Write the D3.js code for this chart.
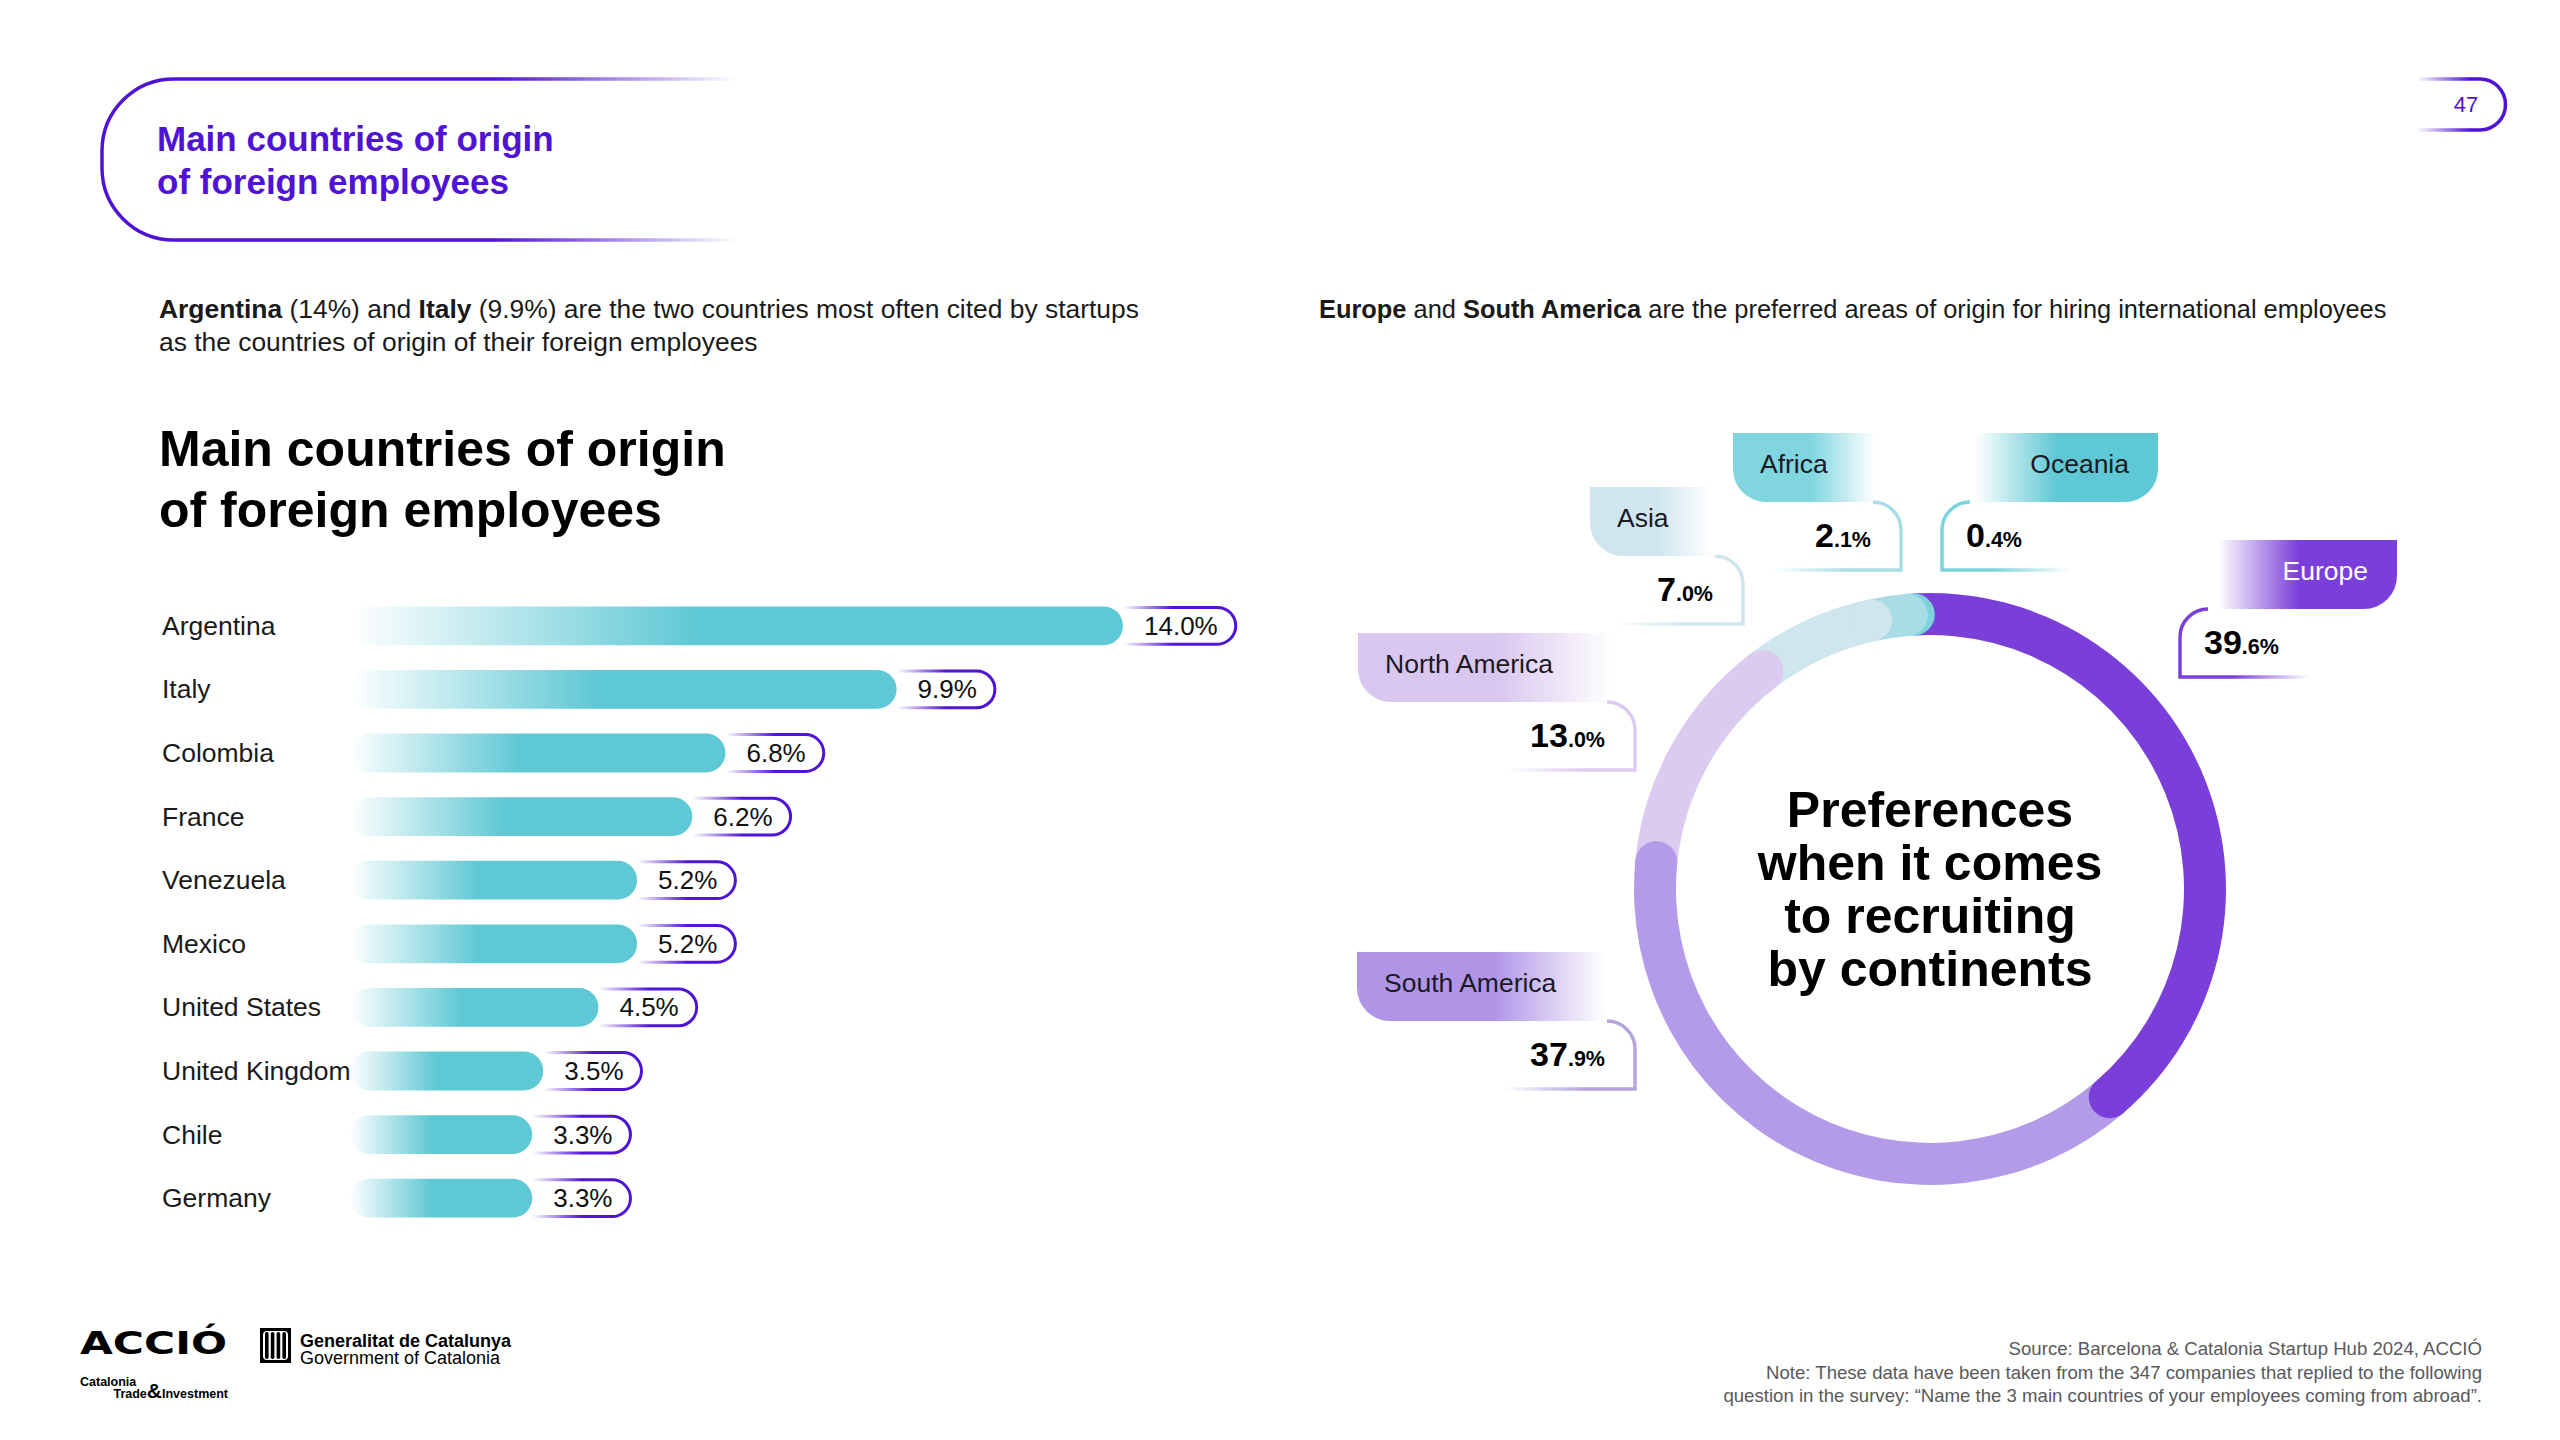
<!DOCTYPE html>
<html>
<head>
<meta charset="utf-8">
<script src="https://cdn.jsdelivr.net/npm/d3@7"></script>
<style>
  html, body { margin: 0; padding: 0; background: #fff; }
  svg { display: block; font-family: 'Liberation Sans', Arial, Helvetica, sans-serif; }
</style>
</head>
<body>
<div id="chart"></div>
<script>
const countries = ['Argentina', 'Italy', 'Colombia', 'France', 'Venezuela', 'Mexico', 'United States', 'United Kingdom', 'Chile', 'Germany'];
const countryShares = [14.0, 9.9, 6.8, 6.2, 5.2, 5.2, 4.5, 3.5, 3.3, 3.3];

const continents = ['Europe', 'South America', 'North America', 'Asia', 'Africa', 'Oceania'];
const continentShares = [39.6, 37.9, 13.0, 7.0, 2.1, 0.4];

const ringColours = ['#7b3fd9', '#b49be9', '#dccbf1', '#cfe6ee', '#a8dde6', '#7dd3dd'];
const tagColours = ['#7b3fd9', '#b095e7', '#d9c7ef', '#cfe6ee', '#80d5df', '#5ec8d4'];
const boxColours = ['#7b3fd9', '#b6a5dc', '#dccbf1', '#cfe6ee', '#a8dde6', '#7dd3dd'];

// where each continent tag sits around the ring
const tagLayout = [
  { side: 'right', x0: 2218, x1: 2397, y: 540, box: 2180 },
  { side: 'left', x0: 1357, x1: 1605, y: 952, box: 1635 },
  { side: 'left', x0: 1358, x1: 1612, y: 633, box: 1635 },
  { side: 'left', x0: 1590, x1: 1712, y: 487, box: 1743 },
  { side: 'left', x0: 1733, x1: 1875, y: 433, box: 1901 },
  { side: 'right', x0: 1975, x1: 2158, y: 433, box: 1942 }
];

const purple = '#4f13d6';
const teal = '#5ec8d4';
const fmt = d3.format('.1f');

const width = 2560;
const height = 1440;

const svg = d3.select('#chart')
  .append('svg')
  .attr('width', width)
  .attr('height', height);

const defs = svg.append('defs');

const addGradient = (id, x1, x2, colour, stops) => {
  const g = defs.append('linearGradient')
    .attr('id', id)
    .attr('gradientUnits', 'userSpaceOnUse')
    .attr('x1', x1).attr('x2', x2)
    .attr('y1', 0).attr('y2', 0);
  stops.forEach(([o, a]) => {
    g.append('stop').attr('offset', o).attr('stop-color', colour).attr('stop-opacity', a);
  });
  return `url(#${id})`;
};

// ---- header box ----
svg.append('path')
  .attr('d', 'M737,79 H174 A72,72 0 0 0 102,151 V168 A72,72 0 0 0 174,240 H737')
  .attr('fill', 'none')
  .attr('stroke', addGradient('headGrad', 102, 737, purple, [[0, 1], [0.62, 1], [1, 0]]))
  .attr('stroke-width', 3.5);

svg.append('text')
  .attr('x', 157).attr('y', 151)
  .attr('font-size', 35).attr('font-weight', 'bold').attr('fill', purple)
  .text('Main countries of origin');
svg.append('text')
  .attr('x', 157).attr('y', 194)
  .attr('font-size', 35).attr('font-weight', 'bold').attr('fill', purple)
  .text('of foreign employees');

// page number
svg.append('path')
  .attr('d', 'M2417,79 H2480 A25.5,25.5 0 0 1 2480,130 H2417')
  .attr('fill', 'none')
  .attr('stroke', addGradient('pageGrad', 2417, 2470, purple, [[0, 0], [1, 1]]))
  .attr('stroke-width', 3.5);
svg.append('text')
  .attr('x', 2466).attr('y', 112)
  .attr('text-anchor', 'middle')
  .attr('font-size', 22).attr('fill', purple)
  .text('47');

// ---- subtitles ----
const sub = svg.append('text')
  .attr('x', 159).attr('y', 318)
  .attr('font-size', 26.4).attr('fill', '#1a1a1a');
sub.append('tspan').attr('font-weight', 'bold').text('Argentina');
sub.append('tspan').text(' (14%) and ');
sub.append('tspan').attr('font-weight', 'bold').text('Italy');
sub.append('tspan').text(' (9.9%) are the two countries most often cited by startups');
svg.append('text')
  .attr('x', 159).attr('y', 351)
  .attr('font-size', 26.4).attr('fill', '#1a1a1a')
  .text('as the countries of origin of their foreign employees');

const sub2 = svg.append('text')
  .attr('x', 1319).attr('y', 318)
  .attr('font-size', 25.4).attr('fill', '#1a1a1a');
sub2.append('tspan').attr('font-weight', 'bold').text('Europe');
sub2.append('tspan').text(' and ');
sub2.append('tspan').attr('font-weight', 'bold').text('South America');
sub2.append('tspan').text(' are the preferred areas of origin for hiring international employees');

svg.append('text')
  .attr('x', 159).attr('y', 466)
  .attr('font-size', 50).attr('font-weight', 'bold').attr('fill', '#000')
  .text('Main countries of origin');
svg.append('text')
  .attr('x', 159).attr('y', 527)
  .attr('font-size', 50).attr('font-weight', 'bold').attr('fill', '#000')
  .text('of foreign employees');

// ---- bar chart ----
const x = d3.scaleLinear().domain([0, 14]).range([350, 1123]);
const y = d3.scaleBand().domain(countries).range([594, 1230]).paddingInner(0.39).paddingOuter(0.195);

defs.append('linearGradient')
  .attr('id', 'barGrad')
  .attr('x1', 0).attr('x2', 1).attr('y1', 0).attr('y2', 0)
  .call(g => {
    g.append('stop').attr('offset', 0).attr('stop-color', teal).attr('stop-opacity', 0);
    g.append('stop').attr('offset', 0.45).attr('stop-color', teal).attr('stop-opacity', 1);
    g.append('stop').attr('offset', 1).attr('stop-color', teal).attr('stop-opacity', 1);
  });

const rows = svg.append('g')
  .selectAll('g')
  .data(countries.map((c, i) => ({ country: c, value: countryShares[i], i })))
  .join('g');

rows.append('text')
  .attr('x', 162)
  .attr('y', d => y(d.country) + y.bandwidth() / 2 + 9)
  .attr('font-size', 26.5).attr('fill', '#1a1a1a')
  .text(d => d.country);

rows.append('rect')
  .attr('x', x(0))
  .attr('y', d => y(d.country))
  .attr('width', d => x(d.value) - x(0))
  .attr('height', y.bandwidth())
  .attr('rx', y.bandwidth() / 2)
  .attr('fill', 'url(#barGrad)');

rows.each(function (d) {
  const g = d3.select(this);
  const end = x(d.value);
  const top = y(d.country) + 1;
  const bottom = y(d.country) + y.bandwidth() - 1;
  const r = (bottom - top) / 2;
  const label = g.append('text')
    .attr('x', end + 21)
    .attr('y', top + r + 9)
    .attr('font-size', 26).attr('fill', '#111')
    .text(fmt(d.value) + '%');
  const right = end + 21 + label.node().getComputedTextLength() + 18;
  g.insert('path', 'text')
    .attr('d', `M${end},${top} H${right - r} A${r},${r} 0 0 1 ${right - r},${bottom} H${end}`)
    .attr('fill', 'none')
    .attr('stroke', addGradient('pill' + d.i, end, end + 50, purple, [[0, 0], [1, 1]]))
    .attr('stroke-width', 3);
});

// ---- donut ----
const cx = 1930;
const cy = 889;
const rOuter = 296;
const rInner = 254;
const rMid = (rOuter + rInner) / 2;
const capR = (rOuter - rInner) / 2;
const capAngle = capR / rMid;
const offset = 1 * Math.PI / 180;

const pie = d3.pie().sort(null).value(d => d)
  .startAngle(offset).endAngle(offset + 2 * Math.PI);
const slices = pie(continentShares);

const arc = d3.arc().innerRadius(rInner).outerRadius(rOuter);
const midArc = d3.arc().innerRadius(rMid).outerRadius(rMid);
const capAt = d => midArc.centroid({ startAngle: d.endAngle - capAngle, endAngle: d.endAngle - capAngle });

const ring = svg.append('g').attr('transform', `translate(${cx},${cy})`);

ring.selectAll('path')
  .data(slices)
  .join('path')
  .attr('d', d => arc({ startAngle: d.startAngle - capAngle, endAngle: d.endAngle - capAngle }))
  .attr('fill', (d, i) => ringColours[i]);

// round ends, laid from last slice to first so small slices stay visible
ring.selectAll('circle')
  .data(slices.map((d, i) => ({ ...d, i })).reverse())
  .join('circle')
  .attr('cx', d => capAt(d)[0])
  .attr('cy', d => capAt(d)[1])
  .attr('r', capR)
  .attr('fill', d => ringColours[d.i]);

const centreLines = ['Preferences', 'when it comes', 'to recruiting', 'by continents'];
svg.append('g')
  .selectAll('text')
  .data(centreLines)
  .join('text')
  .attr('x', cx)
  .attr('y', (d, i) => 827 + i * 53)
  .attr('text-anchor', 'middle')
  .attr('font-size', 50).attr('font-weight', 'bold').attr('fill', '#000')
  .text(d => d);

// ---- continent tags ----
const tabH = 69;
const boxH = 68;
const tabR = 33;
const boxR = 28;
const boxLen = 130;

continents.forEach((name, i) => {
  const t = tagLayout[i];
  const g = svg.append('g');
  const yb = t.y + tabH;
  let tabPath;
  let fillStops;
  if (t.side === 'left') {
    tabPath = `M${t.x0},${t.y} H${t.x1} V${yb} H${t.x0 + tabR} A${tabR},${tabR} 0 0 1 ${t.x0},${yb - tabR} Z`;
    fillStops = [[0, 1], [0.55, 1], [1, 0]];
  } else {
    tabPath = `M${t.x0},${t.y} H${t.x1} V${yb - tabR} A${tabR},${tabR} 0 0 1 ${t.x1 - tabR},${yb} H${t.x0} Z`;
    fillStops = [[0, 0], [0.45, 1], [1, 1]];
  }
  g.append('path')
    .attr('d', tabPath)
    .attr('fill', addGradient('tab' + i, t.x0, t.x1, tagColours[i], fillStops));

  g.append('text')
    .attr('x', t.side === 'left' ? t.x0 + 27 : t.x1 - 29)
    .attr('y', t.y + 40)
    .attr('text-anchor', t.side === 'left' ? 'start' : 'end')
    .attr('font-size', 26.5)
    .attr('fill', name === 'Europe' ? '#fff' : '#1b1a24')
    .text(name);

  const by = yb + boxH;
  let boxPath;
  let strokeGrad;
  if (t.side === 'left') {
    boxPath = `M${t.box - boxLen},${by} H${t.box} V${yb + boxR} A${boxR},${boxR} 0 0 0 ${t.box - boxR},${yb}`;
    strokeGrad = addGradient('box' + i, t.box - boxLen, t.box, boxColours[i], [[0, 0], [0.6, 1], [1, 1]]);
  } else {
    boxPath = `M${t.box + boxLen},${by} H${t.box} V${yb + boxR} A${boxR},${boxR} 0 0 1 ${t.box + boxR},${yb}`;
    strokeGrad = addGradient('box' + i, t.box, t.box + boxLen, boxColours[i], [[0, 1], [0.4, 1], [1, 0]]);
  }
  g.append('path')
    .attr('d', boxPath)
    .attr('fill', 'none')
    .attr('stroke', strokeGrad)
    .attr('stroke-width', 3.5);

  const [whole, dec] = fmt(continentShares[i]).split('.');
  const val = g.append('text')
    .attr('x', t.side === 'left' ? t.box - 30 : t.box + 24)
    .attr('y', yb + 45)
    .attr('text-anchor', t.side === 'left' ? 'end' : 'start')
    .attr('fill', '#000');
  val.append('tspan').attr('font-size', 34).attr('font-weight', 'bold').text(whole);
  val.append('tspan').attr('font-size', 21.5).attr('font-weight', 'bold').text('.' + dec + '%');
});

// ---- footer ----
svg.append('text')
  .attr('x', 80).attr('y', 1354)
  .attr('font-family', "'DejaVu Sans', sans-serif")
  .attr('font-size', 32).attr('font-weight', 'bold')
  .attr('textLength', 147).attr('lengthAdjust', 'spacingAndGlyphs')
  .attr('fill', '#000')
  .text('ACCIÓ');
svg.append('text')
  .attr('x', 80).attr('y', 1386)
  .attr('font-size', 12.5).attr('font-weight', 'bold').attr('fill', '#000')
  .text('Catalonia');
const ti = svg.append('text')
  .attr('x', 228).attr('y', 1398)
  .attr('text-anchor', 'end')
  .attr('font-size', 12.5).attr('font-weight', 'bold').attr('fill', '#000');
ti.append('tspan').text('Trade');
ti.append('tspan').attr('font-size', 21).text('&');
ti.append('tspan').text('Investment');

const logo = svg.append('g');
logo.append('rect').attr('x', 260).attr('y', 1328).attr('width', 31).attr('height', 35).attr('fill', '#000');
logo.append('rect').attr('x', 263).attr('y', 1331).attr('width', 25).attr('height', 29).attr('rx', 4).attr('fill', '#fff');
d3.range(4).forEach(k => {
  logo.append('rect')
    .attr('x', 265 + k * 5.8).attr('y', 1332)
    .attr('width', 3.6).attr('height', 27).attr('rx', 1.8)
    .attr('fill', '#000');
});
svg.append('text')
  .attr('x', 300).attr('y', 1347)
  .attr('font-size', 18).attr('font-weight', 'bold').attr('fill', '#000')
  .text('Generalitat de Catalunya');
svg.append('text')
  .attr('x', 300).attr('y', 1364)
  .attr('font-size', 18).attr('fill', '#000')
  .text('Government of Catalonia');

const notes = [
  'Source: Barcelona & Catalonia Startup Hub 2024, ACCIÓ',
  'Note: These data have been taken from the 347 companies that replied to the following',
  'question in the survey: “Name the 3 main countries of your employees coming from abroad”.'
];
svg.append('g')
  .selectAll('text')
  .data(notes)
  .join('text')
  .attr('x', 2482)
  .attr('y', (d, i) => 1355 + i * 23.5)
  .attr('text-anchor', 'end')
  .attr('font-size', 18.6).attr('fill', '#58595b')
  .text(d => d);
</script>
</body>
</html>
